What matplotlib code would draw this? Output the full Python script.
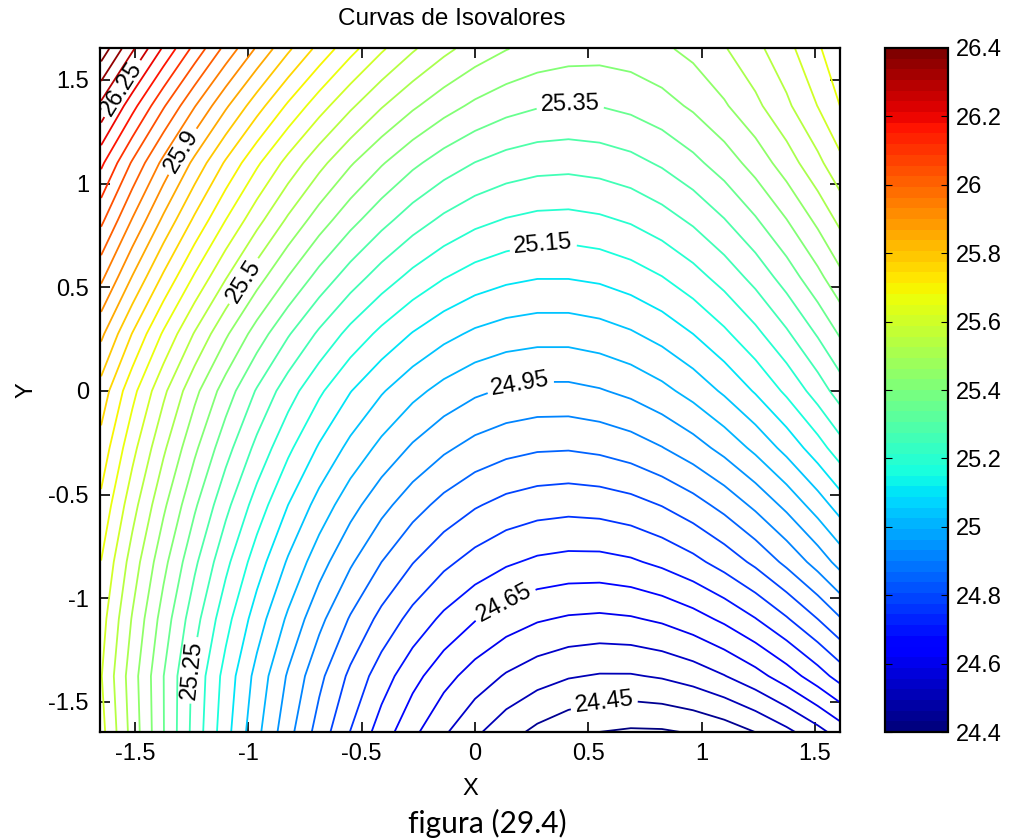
import numpy as np
import matplotlib.pyplot as plt
from matplotlib import cm, colors, ticker

# grid nodes
x_nodes = [-1.65, -1.5125, -1.375, -1.2375, -1.1, -0.9625, -0.825, -0.6875, -0.55, -0.4125,
           -0.275, -0.1375, 0.0, 0.1375, 0.275, 0.4125, 0.55, 0.6875, 0.825, 0.9625,
           1.1, 1.2375, 1.375, 1.5125, 1.65]
y_nodes = [-1.65, -1.375, -1.1, -0.825, -0.55, -0.275, 0.0, 0.275, 0.55, 0.825, 1.1, 1.375, 1.65]

# one row per y node, bottom to top
z_values = [
    [25.618, 25.481, 25.352, 25.231, 25.118, 25.013, 24.917, 24.828, 24.748, 24.676, 24.611, 24.556, 24.508,
     24.468, 24.436, 24.413, 24.398, 24.391, 24.392, 24.402, 24.420, 24.448, 24.485, 24.530, 24.585],
    [25.603, 25.473, 25.351, 25.237, 25.131, 25.033, 24.944, 24.863, 24.789, 24.724, 24.667, 24.618, 24.578,
     24.545, 24.521, 24.504, 24.496, 24.496, 24.505, 24.522, 24.548, 24.582, 24.625, 24.677, 24.737],
    [25.621, 25.496, 25.378, 25.269, 25.168, 25.075, 24.991, 24.914, 24.845, 24.785, 24.733, 24.689, 24.653,
     24.625, 24.605, 24.594, 24.590, 24.595, 24.608, 24.630, 24.660, 24.698, 24.745, 24.800, 24.864],
    [25.649, 25.528, 25.415, 25.310, 25.213, 25.124, 25.044, 24.971, 24.907, 24.850, 24.802, 24.762, 24.731,
     24.707, 24.691, 24.684, 24.684, 24.693, 24.711, 24.736, 24.770, 24.811, 24.862, 24.920, 24.987],
    [25.688, 25.570, 25.460, 25.358, 25.264, 25.178, 25.100, 25.031, 24.969, 24.916, 24.871, 24.834, 24.805,
     24.784, 24.772, 24.767, 24.771, 24.782, 24.802, 24.830, 24.866, 24.911, 24.963, 25.024, 25.092],
    [25.731, 25.616, 25.509, 25.410, 25.319, 25.236, 25.161, 25.094, 25.036, 24.986, 24.943, 24.909, 24.883,
     24.866, 24.856, 24.854, 24.861, 24.875, 24.898, 24.928, 24.966, 25.012, 25.066, 25.128, 25.198],
    [25.779, 25.666, 25.561, 25.464, 25.376, 25.295, 25.223, 25.159, 25.102, 25.055, 25.015, 24.983, 24.959,
     24.944, 24.937, 24.937, 24.946, 24.962, 24.986, 25.018, 25.058, 25.105, 25.160, 25.223, 25.293],
    [25.861, 25.748, 25.643, 25.546, 25.458, 25.377, 25.305, 25.241, 25.184, 25.137, 25.097, 25.065, 25.041,
     25.026, 25.019, 25.019, 25.028, 25.044, 25.068, 25.100, 25.140, 25.187, 25.242, 25.305, 25.375],
    [25.962, 25.848, 25.742, 25.644, 25.554, 25.472, 25.399, 25.333, 25.276, 25.227, 25.186, 25.153, 25.128,
     25.112, 25.103, 25.103, 25.110, 25.126, 25.149, 25.181, 25.220, 25.267, 25.323, 25.386, 25.457],
    [26.062, 25.947, 25.840, 25.741, 25.650, 25.567, 25.492, 25.425, 25.367, 25.317, 25.274, 25.240, 25.214,
     25.197, 25.187, 25.185, 25.192, 25.206, 25.229, 25.259, 25.298, 25.345, 25.399, 25.462, 25.532],
    [26.161, 26.044, 25.936, 25.836, 25.743, 25.659, 25.583, 25.516, 25.456, 25.405, 25.361, 25.326, 25.299,
     25.280, 25.269, 25.266, 25.272, 25.285, 25.307, 25.337, 25.374, 25.420, 25.475, 25.537, 25.607],
    [26.287, 26.168, 26.056, 25.953, 25.858, 25.771, 25.692, 25.621, 25.559, 25.504, 25.458, 25.420, 25.390,
     25.368, 25.354, 25.348, 25.351, 25.362, 25.381, 25.408, 25.444, 25.488, 25.540, 25.601, 25.670],
    [26.432, 26.308, 26.192, 26.084, 25.984, 25.893, 25.809, 25.734, 25.666, 25.607, 25.556, 25.513, 25.478,
     25.452, 25.433, 25.423, 25.420, 25.426, 25.441, 25.464, 25.496, 25.536, 25.584, 25.642, 25.707],
]

# labelled contours and where their labels sit
label_levels = [24.45, 24.65, 24.95, 25.15, 25.25, 25.35, 25.5, 25.9, 26.25]
label_spots = [(0.57, -1.52), (0.14, -1.04), (0.2, 0.03), (0.3, 0.72), (-1.23, -1.35),
               (0.42, 1.38), (-1.05, 0.55), (-1.3, 1.16), (-1.545, 1.45)]

zmin, zmax, zstep = 24.4, 26.4, 0.05
cbar_ticks = [24.4, 24.6, 24.8, 25.0, 25.2, 25.4, 25.6, 25.8, 26.0, 26.2, 26.4]

plt.rcParams['font.family'] = ['Liberation Sans', 'DejaVu Sans']

fig = plt.figure(figsize=(10.11, 8.39), dpi=100)
ax = fig.add_axes([0.0989, 0.1275, 0.732, 0.8153])
cax = fig.add_axes([0.8754, 0.1275, 0.0623, 0.8153])

cmap = plt.get_cmap('jet', 64)
norm = colors.Normalize(zmin, zmax)
levels = np.round(np.arange(zmin, zmax + zstep / 2, zstep), 2)
plain_levels = [lv for lv in levels if not np.isclose(lv, label_levels).any()]

X, Y = np.meshgrid(x_nodes, y_nodes)
Z = np.array(z_values)
ax.contour(X, Y, Z, levels=plain_levels, cmap=cmap, norm=norm, linewidths=1.3)
cs_lab = ax.contour(X, Y, Z, levels=label_levels, cmap=cmap, norm=norm, linewidths=1.3)
ax.clabel(cs_lab, manual=label_spots, fmt='%g', fontsize=17,
          colors='k', inline=True, inline_spacing=4)

ax.set_xlim(-1.655, 1.611)
ax.set_ylim(-1.645, 1.654)
ax.set_xticks([-1.5, -1, -0.5, 0, 0.5, 1, 1.5])
ax.set_yticks([-1.5, -1, -0.5, 0, 0.5, 1, 1.5])
ax.xaxis.set_major_formatter(ticker.FormatStrFormatter('%g'))
ax.yaxis.set_major_formatter(ticker.FormatStrFormatter('%g'))
ax.tick_params(direction='in', top=True, right=True, length=7, width=1.2, labelsize=17, pad=8)
for s in ax.spines.values():
    s.set_linewidth(1.6)

ax.set_xlabel('X', fontsize=17, labelpad=9)
ax.set_ylabel('Y', fontsize=17, labelpad=8)
fig.text(0.447, 0.977, 'Curvas de Isovalores', ha='center', va='center', fontsize=17.5)

cb = fig.colorbar(cm.ScalarMappable(norm=norm, cmap=cmap), cax=cax, ticks=cbar_ticks)
cb.ax.yaxis.set_major_formatter(ticker.FormatStrFormatter('%g'))
cb.ax.tick_params(direction='in', left=True, right=True, length=5, labelsize=17, pad=6)
cb.outline.set_linewidth(1.6)

fig.text(0.482, 0.018, 'figura (29.4)', ha='center', va='center', fontsize=21.5, family='Lato')

fig.savefig('out.png', dpi=100)
